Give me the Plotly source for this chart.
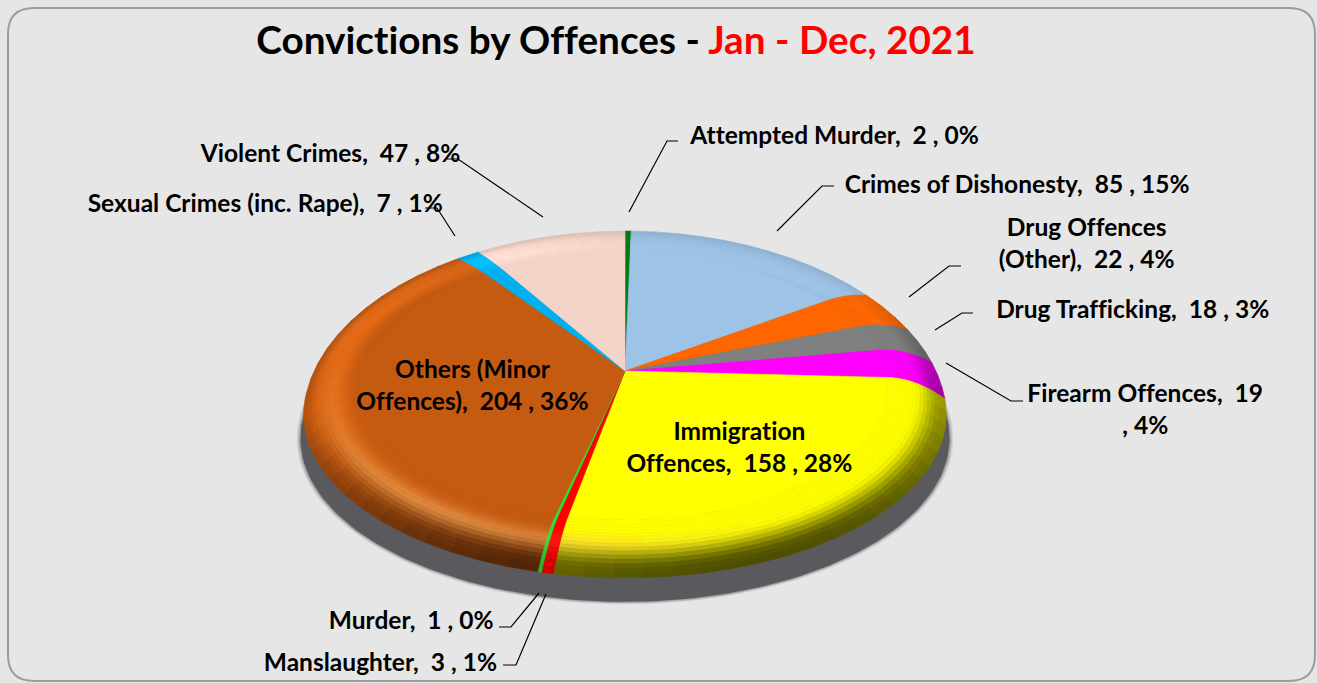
import numpy as np
import plotly.graph_objects as go

# ---- data (clockwise from 12 o'clock) ----
categories = ["Attempted Murder", "Crimes of Dishonesty", "Drug Offences (Other)", "Drug Trafficking",
              "Firearm Offences", "Immigration Offences", "Manslaughter", "Murder",
              "Others (Minor Offences)", "Sexual Crimes (inc. Rape)", "Violent Crimes"]
values = [2, 85, 22, 18, 19, 158, 3, 1, 204, 7, 47]
percents = ["0%", "15%", "4%", "3%", "4%", "28%", "1%", "0%", "36%", "1%", "8%"]
label_names = ["Attempted Murder", "Crimes of Dishonesty", "Drug Offences<br>(Other)", "Drug Trafficking",
               "Firearm Offences", "Immigration<br>Offences", "Manslaughter", "Murder",
               "Others (Minor<br>Offences)", "Sexual Crimes (inc. Rape)", "Violent Crimes"]
colors = ["#007A12", "#9DC3E6", "#FF6600", "#808080", "#FF00FF", "#FFFF00", "#FF0000", "#33DD33",
          "#C55A11", "#00B0F0", "#F4D3C8"]

# ---- styling / layout of the 3-D look ----
BG = "#E6E6E6"
CX, CY, A, B, K, DROP = 625.0, 371.0, 318.0, 160.0, 0.1437, 20.0
R0 = 0.82
RIM_BANDS = 16
STEP_DEG = 5.0
FONT = "Lato, 'Open Sans', sans-serif"
LABEL_SIZE = 24.5
VIEW_ANGLE = [0, 90, 195, 325, 360]      # perspective correction of the 3-D view
VIEW_SHIFT = [0, 0, 2.2, 1.5, 0]
label_pos = [(834, 134), (1017, 183), (1086, 242), (1132, 308), (1145, 408), (739, 446),
             (380, 661), (411, 619), (472, 384), (265, 202), (330, 152)]
leaders = [[(629, 212), (667, 141), (678, 141)],
           [(777, 231), (822, 186), (834, 186)],
           [(909, 297), (949, 266), (961, 266)],
           [(935, 330), (962, 313), (973, 313)],
           [(946, 363), (1011, 401), (1023, 401)],
           [(546, 594), (516, 665), (503, 665)],
           [(539, 593), (511, 627), (499, 627)],
           [(455, 236), (437, 208), (425, 208)],
           [(543, 217), (458, 159), (447, 159)]]


def project(r, deg):
    deg = np.asarray(deg, dtype=float)
    th = np.radians(deg - np.interp(deg, VIEW_ANGLE, VIEW_SHIFT))
    r = np.asarray(r, dtype=float)
    u, v = r * np.sin(th), r * np.cos(th)
    den = 1 + K * v
    t = np.clip((r - R0) / (1 - R0), 0, 1)
    drop = DROP * t ** 2 * np.clip(1 - np.cos(th), 0, 1)
    return CX + A * u / den, CY - B * v / den + drop


def hex2rgb(h):
    return np.array([int(h[i:i + 2], 16) for i in (1, 3, 5)], dtype=float)


def smooth(a, b, x):
    s = np.clip((x - a) / (b - a), 0, 1)
    return s * s * (3 - 2 * s)


def shade(base, t, deg, strength=1.0):
    c = hex2rgb(base)
    s = np.clip(0.15 + 0.85 * np.cos(np.radians(deg - 160)), 0, 1)
    dark = (0.6 * s * smooth(0.45, 0.9, t) + 0.1 * t ** 3) * strength
    broad = np.clip(np.cos(np.radians(deg - 285)), 0, 1) ** 2 * smooth(0.05, 0.5, t) * smooth(1.0, 0.75, t)
    c = c * (1 + 0.18 * broad)
    glow = np.clip(np.cos(np.radians(deg - 215)), 0, 1) ** 3 * np.exp(-((t - 0.55) / 0.18) ** 2) * 0.5
    c = c + glow * (np.array([255, 190, 110]) - c) * strength
    c = c * (1 - dark)
    return "rgb(%d,%d,%d)" % tuple(np.clip(c, 0, 255))


fig = go.Figure()

# drop shadow: the pie outline, pushed down, with a soft edge
ang = np.linspace(0, 360, 241)
for grow, alpha in [(1.012, 0.12), (1.008, 0.2), (1.004, 0.3), (1.0, 1.0)]:
    ox, oy = project(np.ones_like(ang), ang)
    sx = CX + (ox - CX) * 1.01 * grow
    sy = oy + 24 + (oy - CY) * (grow - 1)
    fig.add_trace(go.Scatter(x=sx, y=sy, mode="lines", fill="toself", line=dict(width=0),
                             fillcolor="rgba(89,89,94,%g)" % alpha, hoverinfo="skip", showlegend=False))

# slices: angles come from the values
total = sum(values)
ends = np.cumsum(values) / total * 360.0
starts = np.concatenate([[0], ends[:-1]])
edges = np.linspace(R0, 1, RIM_BANDS + 1)

for name, value, pct, col, a0, a1 in zip(categories, values, percents, colors, starts, ends):
    hover = f"{name}: {value} ({pct})"
    strength = 0.3 if value < 5 else 1.0
    n = max(2, int(np.ceil((a1 - a0) / 1.0)))
    arc = np.linspace(a0, a1, n)
    x1, y1 = project(np.full(n, R0), arc)
    fig.add_trace(go.Scatter(x=np.r_[CX, x1, CX], y=np.r_[CY, y1, CY], mode="lines", fill="toself",
                             line=dict(width=0.6, color=col), fillcolor=col, name=name,
                             text=hover, hoverinfo="text", showlegend=False))
    segs = max(1, int(np.ceil((a1 - a0) / STEP_DEG)))
    seg_edges = np.linspace(a0, a1, segs + 1)
    for i in range(RIM_BANDS):
        r_in, r_out = edges[i], edges[i + 1]
        for s in range(segs):
            sub = np.linspace(seg_edges[s], seg_edges[s + 1], 4)
            xi, yi = project(np.full(4, r_in), sub)
            xo, yo = project(np.full(4, r_out), sub)
            fc = shade(col, (i + 0.5) / RIM_BANDS, 0.5 * (seg_edges[s] + seg_edges[s + 1]), strength)
            fig.add_trace(go.Scatter(x=np.r_[xi, xo[::-1], xi[0]], y=np.r_[yi, yo[::-1], yi[0]],
                                     mode="lines", fill="toself", line=dict(width=0.7, color=fc),
                                     fillcolor=fc, name=name, text=hover, hoverinfo="text", showlegend=False))

# labels
annotations = []
for i, (lab, val, pct, (lx, ly)) in enumerate(zip(label_names, values, percents, label_pos)):
    if i == 4:
        txt = f"{lab},  {val}<br>, {pct}"
    else:
        txt = f"{lab},  {val} , {pct}"
    annotations.append(dict(x=lx, y=ly, xref="x", yref="y", text=txt, showarrow=False,
                            xanchor="center", yanchor="middle", align="center",
                            font=dict(family=FONT, size=LABEL_SIZE, color="black", weight="bold")))

shapes = [dict(type="path", layer="below", xref="x", yref="y",
               path="M34,8 H1289 Q1315,8 1315,34 V655 Q1315,681 1289,681 H34 Q8,681 8,655 V34 Q8,8 34,8 Z",
               line=dict(color="#9C9C9C", width=2), fillcolor=BG)]
for pts in leaders:
    shapes.append(dict(type="path", layer="above", xref="x", yref="y",
                       path="M" + " L".join(f"{px},{py}" for px, py in pts),
                       line=dict(color="black", width=1.2)))

fig.update_layout(
    width=1317, height=683, margin=dict(l=0, r=0, t=0, b=0), autosize=False,
    paper_bgcolor=BG, plot_bgcolor=BG, showlegend=False,
    title=dict(text='<b>Convictions by Offences - <span style="color:#FF0000">Jan - Dec, 2021</span></b>',
               x=616 / 1317, y=1 - 40 / 683, xanchor="center", yanchor="middle",
               font=dict(family=FONT, size=38.7, color="black")),
    xaxis=dict(range=[0, 1317], visible=False, fixedrange=True),
    yaxis=dict(range=[683, 0], visible=False, fixedrange=True),
    annotations=annotations, shapes=shapes,
)
page_css = ("document.body.style.margin='0';document.body.style.overflow='hidden';"
            "var st=document.createElement('style');"
            "st.textContent='svg text{font-variant-ligatures:none!important;letter-spacing:0.02px!important}';"
            "document.head.appendChild(st);")
fig.write_html("out.html", post_script=page_css, config={"displayModeBar": False})
